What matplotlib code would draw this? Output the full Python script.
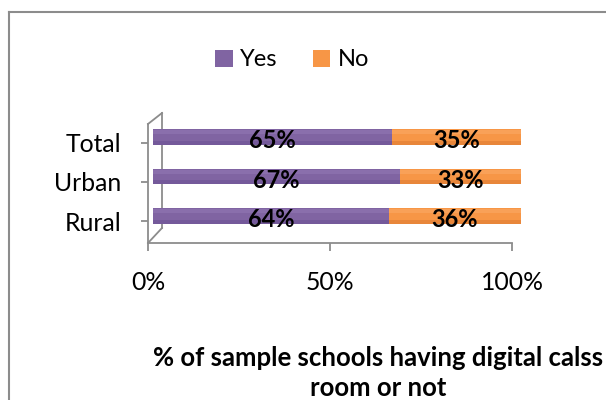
import matplotlib
matplotlib.use("Agg")
import matplotlib.pyplot as plt
from matplotlib.lines import Line2D
from matplotlib.patches import Patch

categories = ["Rural", "Urban", "Total"]
yes_vals = [64, 67, 65]
no_vals = [36, 33, 35]
series_names = ["Yes", "No"]
x_ticks = [0, 50, 100]
x_tick_labels = ["0%", "50%", "100%"]
xlabel = "% of sample schools having digital calss\nroom or not"

PURPLE = "#8064A2"
PURPLE_D = "#74599A"
PURPLE_L = "#8A6FAC"
ORANGE = "#F79646"
ORANGE_D = "#E8863A"
ORANGE_L = "#F9A158"
GRAY = "#8C8C8C"
FONT = "Lato"

W, H = 606, 400
dpi = 100
fig = plt.figure(figsize=(W / dpi, H / dpi), dpi=dpi)


def px(x0, y0, x1, y1):
    return [x0 / W, 1 - y1 / H, (x1 - x0) / W, (y1 - y0) / H]


ypos = list(range(len(categories)))

# ---- front plane (axes lines, ticks, labels) ----
ax = fig.add_axes(px(148, 124, 512, 243))
ax.set_xlim(0, 100)
ax.set_ylim(-0.564, 2.487)
ax.patch.set_alpha(0)
for s in ["top", "right"]:
    ax.spines[s].set_visible(False)
for s in ["left", "bottom"]:
    ax.spines[s].set_color(GRAY)
    ax.spines[s].set_linewidth(1.3)
ax.set_yticks(ypos)
ax.set_yticklabels(categories, fontsize=17.8, family=FONT)
ax.set_xticks(x_ticks)
ax.set_xticklabels(x_tick_labels, fontsize=17.8, family=FONT)
ax.tick_params(axis="y", length=5, width=1.3, color=GRAY, pad=14)
ax.tick_params(axis="x", length=6, width=1.3, color=GRAY, pad=14)

# ---- back wall of the 3D frame ----
back = fig.add_axes(px(162, 113, 526, 228))
back.set_xlim(0, 1)
back.set_ylim(0, 1)
back.axis("off")
back.plot([0, 0], [0, 1], color=GRAY, lw=1.3, clip_on=False)
for yy in (0, 1):
    pf = ax.transAxes.transform((0, yy))
    pb = back.transAxes.transform((0, yy))
    fig.add_artist(Line2D([pf[0] / W, pb[0] / W], [pf[1] / H, pb[1] / H],
                          color=GRAY, lw=1.3, transform=fig.transFigure))

# ---- bars at mid depth ----
bx = fig.add_axes(px(153, 100, 521, 250))
bx.set_xlim(0, 100)
bx.set_ylim(-0.861, 2.937)
bx.axis("off")
h = 0.405
bx.barh(ypos, yes_vals, height=h, color=PURPLE, linewidth=0)
bx.barh(ypos, no_vals, left=yes_vals, height=h, color=ORANGE, linewidth=0)
# subtle cylinder-like shading: light top band, dark bottom band
yl = [y + h * 0.3 for y in ypos]
yd = [y - h * 0.36 for y in ypos]
bx.barh(yl, yes_vals, height=h * 0.25, color=PURPLE_L, linewidth=0)
bx.barh(yl, no_vals, left=yes_vals, height=h * 0.25, color=ORANGE_L, linewidth=0)
bx.barh(yd, yes_vals, height=h * 0.28, color=PURPLE_D, linewidth=0)
bx.barh(yd, no_vals, left=yes_vals, height=h * 0.28, color=ORANGE_D, linewidth=0)

for y, a, b in zip(ypos, yes_vals, no_vals):
    bx.text(a / 2, y - 0.1, f"{a}%", ha="center", va="center", fontsize=17,
            fontweight="bold", family=FONT, color="black")
    bx.text(a + b / 2, y - 0.1, f"{b}%", ha="center", va="center", fontsize=17,
            fontweight="bold", family=FONT, color="black")

# ---- axis title ----
fig.text(378 / W, 1 - 373 / H, xlabel, ha="center", va="center", fontsize=18.5,
         fontweight="bold", family=FONT, linespacing=1.28)

# ---- legend ----
handles = [Patch(facecolor=PURPLE), Patch(facecolor=ORANGE)]
fig.legend(handles, series_names, loc="center", bbox_to_anchor=(292 / W, 1 - 60 / H),
           ncol=2, frameon=False, prop={"family": FONT, "size": 17},
           handlelength=0.75, handleheight=0.75, handletextpad=0.3, columnspacing=1.5)

# ---- outer chart frame (extends past the image) ----
fig.add_artist(Line2D([9 / W, 1.0], [1 - 12 / H, 1 - 12 / H], color=GRAY, lw=1.5,
                      transform=fig.transFigure))
fig.add_artist(Line2D([9 / W, 9 / W], [1 - 12 / H, 0], color=GRAY, lw=1.5,
                      transform=fig.transFigure))

fig.savefig("out.png", dpi=dpi)
